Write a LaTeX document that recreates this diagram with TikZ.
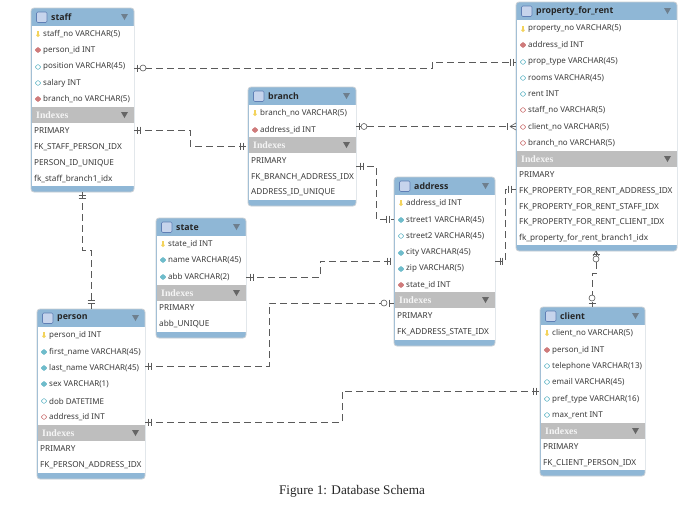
\documentclass[tikz,border=0pt]{standalone}
\usepackage{fontspec}
\setmainfont{Noto Sans}
\newfontfamily\capfont{Liberation Serif}
\newfontfamily\titlefont{Open Sans}
\usetikzlibrary{calc}
\definecolor{headblue}{HTML}{8FB7D6}
\definecolor{idxgray}{HTML}{BEBEBE}
\definecolor{edgegray}{HTML}{C9CFD4}
\definecolor{inktext}{HTML}{3A3A3A}
\definecolor{linkgray}{HTML}{5A5A5A}
\definecolor{tealfill}{HTML}{6FBCCB}
\definecolor{redfill}{HTML}{CF7B7B}
\definecolor{keyyellow}{HTML}{F3D35B}
\definecolor{iconfill}{HTML}{C6D4EC}
\definecolor{iconedge}{HTML}{5F7FB5}
\definecolor{headtri}{HTML}{6E7F8E}
\tikzset{
  tablebody/.style={draw=edgegray,fill=headblue,rounded corners=3pt,inner sep=0pt,outer sep=0pt,anchor=north west,line width=0.8pt},
  rowtext/.style={anchor=west,inner sep=0pt,text=inktext,font=\fontsize{8}{9}\selectfont},
  keytext/.style={anchor=west,inner sep=0pt,text=inktext,font=\fontsize{8.2}{9}\selectfont},
  titletext/.style={anchor=west,inner sep=0pt,text=black!85,font=\titlefont\fontsize{8.8}{10}\selectfont\bfseries},
  idxtext/.style={anchor=west,inner sep=0pt,text=white!92!gray,font=\capfont\fontsize{9.8}{11}\selectfont\bfseries},
  rel/.style={draw=linkgray,line width=0.7pt,dash pattern=on 7pt off 4pt},
  mk/.style={draw=linkgray,line width=0.6pt},
  capt/.style={inner sep=0pt,font=\capfont\fontsize{13.2}{15}\selectfont,text=black!85}
}
% name x1 y1 x2 y2 yheadend yidx title
\newcommand{\dbtable}[8]{%
  \node[tablebody,minimum width={(#4-#2)*1pt},minimum height={(#5-#3)*1pt}] (#1) at (#2,-#3) {};
  \fill[white] (#2+0.5,-#6) rectangle (#4-0.5,-#5+6);
  \fill[idxgray] (#2+0.5,-#7) rectangle (#4-0.5,-#7-16);
  \draw[fill=iconfill,draw=iconedge,rounded corners=1.2pt,line width=0.6pt] (#2+5.5,-#3-4) rectangle (#2+16,-#3-14.5);
  \node[titletext] (#1title) at (#2+20,-#3-9.5) {#8};
  \fill[headtri] (#4-13,-#3-6) -- (#4-6,-#3-6) -- (#4-9.5,-#3-12) -- cycle;
  \node[idxtext] (#1idx) at (#2+5,-#7-8) {Indexes};
  \fill[black!60] (#4-13,-#7-5) -- (#4-6,-#7-5) -- (#4-9.5,-#7-11) -- cycle;
}
% table x y text
\newcommand{\keyrow}[4]{%
  \fill[keyyellow] (#2+7,-#3-1.2) circle (1.9);
  \fill[keyyellow] (#2+6.2,-#3-1) rectangle (#2+7.8,-#3+3.5);
  \node[rowtext] (#1r#3) at (#2+12,-#3) {#4};}
\newcommand{\dotrow}[6]{% table x y fill draw text
  \filldraw[fill=#4,draw=#5,line width=0.6pt,rounded corners=0.5pt] (#2+7,-#3+2.7) -- (#2+10,-#3) -- (#2+7,-#3-2.7) -- (#2+4,-#3) -- cycle;
  \node[rowtext] (#1r#3) at (#2+12,-#3) {#6};}
\newcommand{\tealrow}[4]{\dotrow{#1}{#2}{#3}{tealfill}{tealfill}{#4}}
\newcommand{\redrow}[4]{\dotrow{#1}{#2}{#3}{redfill}{redfill}{#4}}
\newcommand{\openrow}[4]{\dotrow{#1}{#2}{#3}{white}{tealfill}{#4}}
\newcommand{\pinkrow}[4]{\dotrow{#1}{#2}{#3}{white}{redfill}{#4}}
\newcommand{\idxrow}[4]{\node[keytext] (#1r#3) at (#2+3,-#3) {#4};}
% marks
\newcommand{\hticks}[3]{\draw[mk] (#1,-#3+3.5) -- (#1,-#3-3.5) (#2,-#3+3.5) -- (#2,-#3-3.5);}
\newcommand{\vticks}[3]{\draw[mk] (#1-3.5,-#2) -- (#1+3.5,-#2) (#1-3.5,-#3) -- (#1+3.5,-#3);}
\newcommand{\oring}[2]{\draw[mk,fill=white] (#1,-#2) circle (3);}
\begin{document}
\begin{tikzpicture}[x=1pt,y=1pt]
\useasboundingbox[fill=white] (0,0) rectangle (700,-507);
% ---- staff
\dbtable{staff}{31}{8}{134}{192}{26}{107}{staff}
\keyrow{staff}{31}{34}{staff\_no VARCHAR(5)}
\redrow{staff}{31}{50}{person\_id INT}
\openrow{staff}{31}{67}{position VARCHAR(45)}
\openrow{staff}{31}{83}{salary INT}
\redrow{staff}{31}{99}{branch\_no VARCHAR(5)}
\idxrow{staff}{31}{131}{PRIMARY}
\idxrow{staff}{31}{147}{FK\_STAFF\_PERSON\_IDX}
\idxrow{staff}{31}{163}{PERSON\_ID\_UNIQUE}
\idxrow{staff}{31}{179}{fk\_staff\_branch1\_idx}
% ---- branch
\dbtable{branch}{248}{87}{356}{206}{105}{137}{branch}
\keyrow{branch}{248}{113}{branch\_no VARCHAR(5)}
\redrow{branch}{248}{130}{address\_id INT}
\idxrow{branch}{248}{161}{PRIMARY}
\idxrow{branch}{248}{177}{FK\_BRANCH\_ADDRESS\_IDX}
\idxrow{branch}{248}{192}{ADDRESS\_ID\_UNIQUE}
% ---- property_for_rent
\dbtable{property}{516}{2}{677}{251}{20}{151}{property\_for\_rent}
\keyrow{property}{516}{29}{property\_no VARCHAR(5)}
\redrow{property}{516}{45}{address\_id INT}
\openrow{property}{516}{62}{prop\_type VARCHAR(45)}
\openrow{property}{516}{78}{rooms VARCHAR(45)}
\openrow{property}{516}{94}{rent INT}
\pinkrow{property}{516}{110}{staff\_no VARCHAR(5)}
\pinkrow{property}{516}{127}{client\_no VARCHAR(5)}
\pinkrow{property}{516}{143}{branch\_no VARCHAR(5)}
\idxrow{property}{516}{175}{PRIMARY}
\idxrow{property}{516}{191}{FK\_PROPERTY\_FOR\_RENT\_ADDRESS\_IDX}
\idxrow{property}{516}{207}{FK\_PROPERTY\_FOR\_RENT\_STAFF\_IDX}
\idxrow{property}{516}{222}{FK\_PROPERTY\_FOR\_RENT\_CLIENT\_IDX}
\idxrow{property}{516}{238}{fk\_property\_for\_rent\_branch1\_idx}
% ---- state
\dbtable{state}{156}{218}{246}{338}{236}{285}{state}
\keyrow{state}{156}{244}{state\_id INT}
\tealrow{state}{156}{260}{name VARCHAR(45)}
\tealrow{state}{156}{277}{abb VARCHAR(2)}
\idxrow{state}{156}{308}{PRIMARY}
\idxrow{state}{156}{324}{abb\_UNIQUE}
% ---- address
\dbtable{address}{394}{177}{495}{346}{195}{292}{address}
\keyrow{address}{394}{203}{address\_id INT}
\tealrow{address}{394}{220}{street1 VARCHAR(45)}
\openrow{address}{394}{236}{street2 VARCHAR(45)}
\tealrow{address}{394}{253}{city VARCHAR(45)}
\tealrow{address}{394}{269}{zip VARCHAR(5)}
\redrow{address}{394}{285}{state\_id INT}
\idxrow{address}{394}{316}{PRIMARY}
\idxrow{address}{394}{332}{FK\_ADDRESS\_STATE\_IDX}
% ---- person
\dbtable{person}{37}{309}{145}{479}{327}{425}{person}
\keyrow{person}{37}{335}{person\_id INT}
\tealrow{person}{37}{352}{first\_name VARCHAR(45)}
\tealrow{person}{37}{368}{last\_name VARCHAR(45)}
\tealrow{person}{37}{384}{sex VARCHAR(1)}
\openrow{person}{37}{401}{dob DATETIME}
\pinkrow{person}{37}{417}{address\_id INT}
\idxrow{person}{37}{449}{PRIMARY}
\idxrow{person}{37}{465}{FK\_PERSON\_ADDRESS\_IDX}
% ---- client
\dbtable{client}{540}{307}{645}{476}{325}{423}{client}
\keyrow{client}{540}{333}{client\_no VARCHAR(5)}
\redrow{client}{540}{350}{person\_id INT}
\openrow{client}{540}{366}{telephone VARCHAR(13)}
\openrow{client}{540}{382}{email VARCHAR(45)}
\openrow{client}{540}{399}{pref\_type VARCHAR(16)}
\openrow{client}{540}{415}{max\_rent INT}
\idxrow{client}{540}{447}{PRIMARY}
\idxrow{client}{540}{463}{FK\_CLIENT\_PERSON\_IDX}
% ---- connectors
\draw[rel] (staff.east |- 0,-68) -- (432,-68) -- (432,-62) -- (property.west |- 0,-62);
\hticks{137}{137}{68}\oring{143}{68}\hticks{510}{513}{62}
\draw[rel] (staff.east |- 0,-130) -- (190,-130) -- (190,-146) -- (branch.west |- 0,-146);
\hticks{137}{140}{130}\hticks{240}{243}{146}
\draw[rel] (staff.south -| 82,0) -- (82,-250) -- (91,-250) -- (person.north -| 91,0);
\vticks{82}{195}{198}\vticks{91}{300}{303}
\draw[rel] (branch.east |- 0,-126.5) -- (property.west |- 0,-126.5);
\hticks{359}{359}{126.5}\oring{364}{126.5}\hticks{507}{507}{126.5}
\draw[mk] (510,-126.5) -- (516,-123) (510,-126.5) -- (516,-130);
\draw[rel] (branch.east |- 0,-166) -- (376,-166) -- (376,-219) -- (address.west |- 0,-219);
\hticks{360}{363}{166}\hticks{386}{389}{219}
\draw[rel] (address.east |- 0,-261) -- (505,-261) -- (505,-189) -- (property.west |- 0,-189);
\hticks{500}{502}{261}\hticks{508}{511}{189}
\draw[rel] (state.east |- 0,-277) -- (320,-277) -- (320,-261) -- (address.west |- 0,-261);
\hticks{250}{253}{277}\hticks{387}{390}{261}
\draw[rel] (person.east |- 0,-366) -- (269,-366) -- (269,-303) -- (address.west |- 0,-303);
\hticks{148}{151}{366}\oring{384}{303}\hticks{389}{389}{303}
\draw[rel] (person.east |- 0,-422) -- (342,-422) -- (342,-391) -- (client.west |- 0,-391);
\hticks{148}{151}{422}\hticks{533}{536}{391}
\draw[rel] (property.south -| 596,0) -- (596,-273) -- (592,-273) -- (client.north -| 592,0);
\draw[mk] (596,-251) -- (593,-256) (596,-251) -- (599,-256);
\vticks{596}{254}{254}\oring{596}{259}\oring{592}{298}\vticks{592}{303}{303}
% ---- caption
\node[capt] (caption) at (352,-491) {Figure 1: Database Schema};
\end{tikzpicture}
\end{document}
